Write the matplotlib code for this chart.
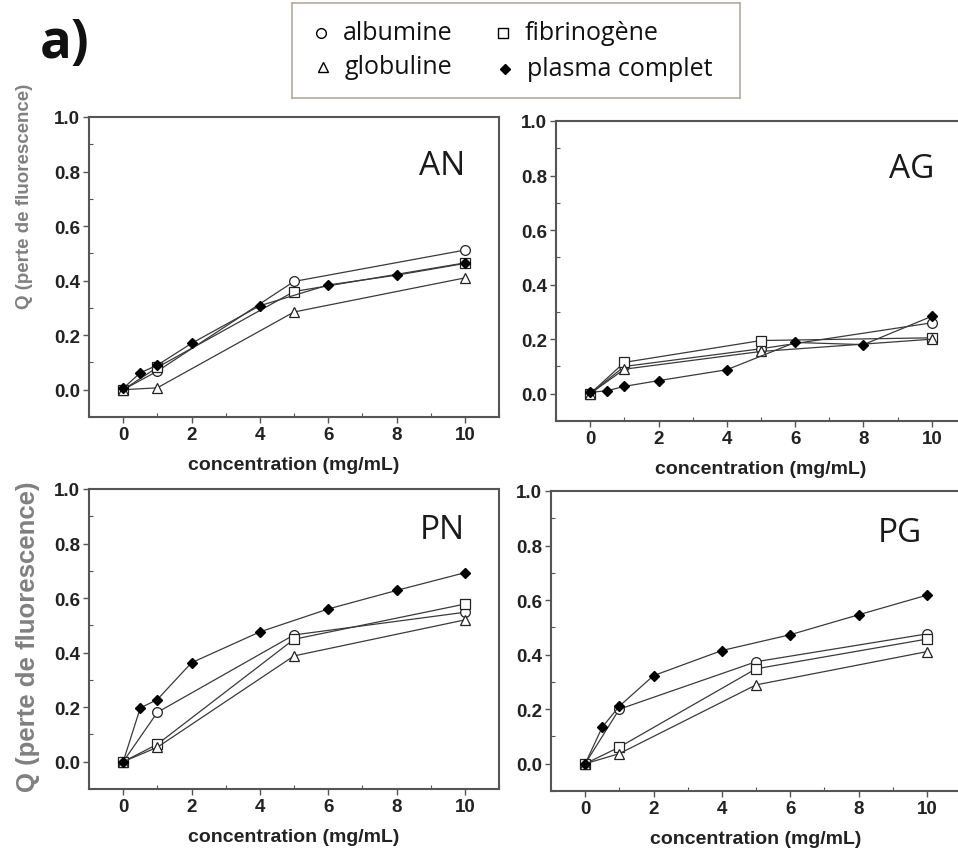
import matplotlib
matplotlib.use("Agg")
import matplotlib.pyplot as plt
from matplotlib.ticker import MultipleLocator

W, H = 958, 854

# concentrations (mg/mL)
conc_prot = [0, 1, 5, 10]
conc_plasma = [0, 0.5, 1, 2, 4, 6, 8, 10]

# Q values per panel, per protein
AN = {
    "albumine": [0, 0.068, 0.397, 0.512],
    "fibrinogene": [0, 0.082, 0.360, 0.465],
    "globuline": [0, 0.007, 0.285, 0.410],
    "plasma": [0.005, 0.062, 0.090, 0.170, 0.308, 0.384, 0.420, 0.463],
}
AG = {
    "albumine": [0, 0.100, 0.165, 0.260],
    "fibrinogene": [0, 0.115, 0.195, 0.205],
    "globuline": [0, 0.090, 0.155, 0.200],
    "plasma": [0.005, 0.011, 0.027, 0.048, 0.088, 0.188, 0.180, 0.284],
}
PN = {
    "albumine": [0, 0.181, 0.465, 0.548],
    "fibrinogene": [0, 0.064, 0.449, 0.578],
    "globuline": [0, 0.053, 0.388, 0.520],
    "plasma": [0, 0.197, 0.228, 0.363, 0.476, 0.560, 0.628, 0.693],
}
PG = {
    "albumine": [0, 0.200, 0.374, 0.476],
    "fibrinogene": [0, 0.061, 0.348, 0.457],
    "globuline": [0, 0.037, 0.289, 0.411],
    "plasma": [0, 0.134, 0.211, 0.323, 0.415, 0.473, 0.546, 0.618],
}

legend_labels = {
    "albumine": "albumine",
    "fibrinogene": "fibrinogène",
    "globuline": "globuline",
    "plasma": "plasma complet",
}
markers = {"albumine": "o", "fibrinogene": "s", "globuline": "^", "plasma": "D"}
msizes = {"albumine": 7, "fibrinogene": 6.5, "globuline": 7.5, "plasma": 5.5}

line_col = "#3a3a3a"
spine_col = "#555555"


def px_axes(fig, left, top, right, bottom):
    return fig.add_axes([left / W, 1 - bottom / H, (right - left) / W, (bottom - top) / H])


def draw_panel(ax, data, name, name_xy):
    for key in ["albumine", "fibrinogene", "globuline"]:
        ax.plot(conc_prot, data[key], color=line_col, lw=0.9, marker=markers[key],
                ms=msizes[key], mfc="white", mec="#222222", mew=0.9, zorder=3)
    ax.plot(conc_plasma, data["plasma"], color=line_col, lw=0.9, marker="D",
            ms=msizes["plasma"], mfc="black", mec="black", zorder=4)
    ax.set_xlim(-1, 11)
    ax.set_ylim(-0.1, 1.0)
    ax.xaxis.set_minor_locator(MultipleLocator(1))
    ax.yaxis.set_minor_locator(MultipleLocator(0.1))
    ax.set_yticks([0, 0.2, 0.4, 0.6, 0.8, 1.0])
    ax.set_yticklabels(["0.0", "0.2", "0.4", "0.6", "0.8", "1.0"])
    ax.set_xticks([0, 2, 4, 6, 8, 10])
    ax.tick_params(which="major", direction="out", length=4, width=1, color=spine_col,
                   labelsize=13.5, pad=2.5, top=False, right=False)
    ax.tick_params(which="minor", direction="in", length=3, width=0.8, color=spine_col,
                   top=False, right=False)
    for lab in ax.get_xticklabels() + ax.get_yticklabels():
        lab.set_fontweight("bold")
        lab.set_family("Liberation Sans")
        lab.set_color("#222222")
    for sp in ax.spines.values():
        sp.set_color(spine_col)
        sp.set_linewidth(1.5)
    ax.set_xlabel("concentration (mg/mL)", fontsize=14, fontweight="bold",
                  family="Liberation Sans", color="#222222", labelpad=9)
    ax.text(name_xy[0], name_xy[1], name, ha="right", va="baseline",
            fontsize=24, family="Open Sans", color="#1a1a1a")


fig = plt.figure(figsize=(W / 100, H / 100), dpi=100)

ax_an = px_axes(fig, 89, 118, 499, 418)
ax_ag = px_axes(fig, 556, 122, 966, 422)
ax_pn = px_axes(fig, 89, 490, 499, 790)
ax_pg = px_axes(fig, 551, 492, 961, 792)

draw_panel(ax_an, AN, "AN", (10.0, 0.79))
draw_panel(ax_ag, AG, "AG", (10.06, 0.796))
draw_panel(ax_pn, PN, "PN", (10.0, 0.82))
draw_panel(ax_pg, PG, "PG", (9.85, 0.818))

ylab = "Q (perte de fluorescence)"
fig.text(25 / W, 1 - 196 / H, ylab, rotation=90, ha="center", va="center",
         fontsize=13.5, fontweight="bold", family="Liberation Sans", color="#808080")
fig.text(28 / W, 1 - 637 / H, ylab, rotation=90, ha="center", va="center",
         fontsize=18.5, fontweight="bold", family="Liberation Sans", color="#808080")

fig.text(40 / W, 1 - 58 / H, "a)", fontsize=38, fontweight="bold",
         family="Open Sans", color="#111111", ha="left", va="baseline")

# legend box
lax = px_axes(fig, 292, 4, 740, 99)
lax.set_xlim(0, 448)
lax.set_ylim(95, 0)
lax.set_xticks([])
lax.set_yticks([])
for sp in lax.spines.values():
    sp.set_color("#b8a89a")
    sp.set_linewidth(1.2)
leg_items = [
    ("albumine", 321 - 292, 30),
    ("fibrinogene", 503 - 292, 30),
    ("globuline", 323 - 292, 64),
    ("plasma", 505 - 292, 66),
]
for key, mx, my in leg_items:
    filled = key == "plasma"
    lax.plot([mx], [my], marker=markers[key], ms=msizes[key],
             mfc="black" if filled else "white", mec="black", mew=1.0, ls="none")
    lax.text(mx + 22, my, legend_labels[key], fontsize=18, family="Open Sans",
             va="center", ha="left", color="#111111")

fig.savefig("out.png", dpi=100)
